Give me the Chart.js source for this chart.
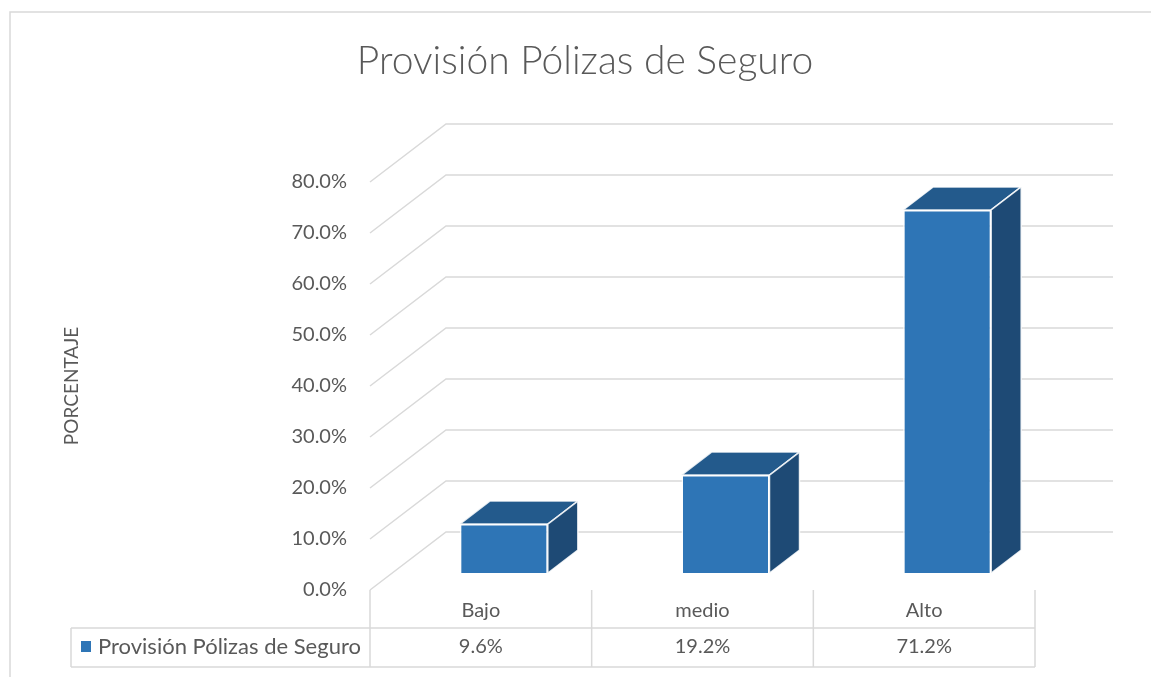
<html><head><meta charset="UTF-8">
<title>Provisión Pólizas de Seguro</title>
<style>
* { margin: 0; padding: 0; box-sizing: border-box; }
body { background: #ffffff; width: 1151px; height: 677px; overflow: hidden; }
.wrap { position: relative; width: 1151px; height: 677px; }
</style>
<script src="https://cdn.jsdelivr.net/npm/chart.js"></script>
</head>
<body>
<div class="wrap"><canvas id="chart"></canvas></div>
<script>
const chartTitle = 'Provisión Pólizas de Seguro';
const categories = ['Bajo', 'medio', 'Alto'];
const seriesName = 'Provisión Pólizas de Seguro';
const values = [9.6, 19.2, 71.2];
const tickValues = [0, 10, 20, 30, 40, 50, 60, 70, 80];

const TEXT = '#595959';
const GRID = '#D9D9D9';
const FRONT = '#2E75B6';
const TOP = '#235A8C';
const SIDE = '#1E4A75';

// wall depth (gridlines) and bar depth for the 3D look
const wallDX = 76, wallDY = -58;
const barShiftX = 23, barShiftY = -17;
const barDX = 30, barDY = -23;

const threeD = {
  id: 'threeD',
  beforeDraw(chart) {
    const ctx = chart.ctx;
    ctx.save();
    ctx.strokeStyle = GRID;
    ctx.lineWidth = 1.5;
    ctx.beginPath();
    ctx.moveTo(10, 677);
    ctx.lineTo(10, 12);
    ctx.lineTo(1151, 12);
    ctx.stroke();
    // title, centred on the whole chart like Excel does
    ctx.fillStyle = TEXT;
    ctx.font = '300 39px Lato';
    ctx.textAlign = 'center';
    ctx.textBaseline = 'middle';
    ctx.fillText(chartTitle, 585, 61);
    ctx.restore();
  },
  beforeDatasetsDraw(chart) {
    const ctx = chart.ctx;
    const area = chart.chartArea;
    const y = chart.scales.y;
    ctx.save();
    ctx.strokeStyle = GRID;
    ctx.lineWidth = 1.5;
    tickValues.forEach(v => {
      const py = y.getPixelForValue(v);
      ctx.beginPath();
      ctx.moveTo(area.left, py);
      ctx.lineTo(area.left + wallDX, py + wallDY);
      ctx.lineTo(area.right + wallDX + 2, py + wallDY);
      ctx.stroke();
    });
    ctx.restore();
    ctx.save();
    ctx.translate(barShiftX, barShiftY);
  },
  afterDatasetsDraw(chart) {
    const ctx = chart.ctx;
    ctx.restore();
    const meta = chart.getDatasetMeta(0);
    ctx.save();
    ctx.lineWidth = 1.5;
    ctx.strokeStyle = 'rgba(255,255,255,0.85)';
    ctx.lineJoin = 'round';
    meta.data.forEach(bar => {
      const l = bar.x - bar.width / 2 + barShiftX;
      const r = bar.x + bar.width / 2 + barShiftX;
      const t = bar.y + barShiftY;
      const b = bar.base + barShiftY;
      ctx.fillStyle = TOP;
      ctx.beginPath();
      ctx.moveTo(l, t);
      ctx.lineTo(l + barDX, t + barDY);
      ctx.lineTo(r + barDX, t + barDY);
      ctx.lineTo(r, t);
      ctx.closePath();
      ctx.fill();
      ctx.stroke();
      ctx.fillStyle = SIDE;
      ctx.beginPath();
      ctx.moveTo(r, t);
      ctx.lineTo(r + barDX, t + barDY);
      ctx.lineTo(r + barDX, b + barDY);
      ctx.lineTo(r, b);
      ctx.closePath();
      ctx.fill();
      ctx.stroke();
    });
    ctx.restore();
  },
  afterDraw(chart) {
    // data table under the axis
    const ctx = chart.ctx;
    const area = chart.chartArea;
    const x = chart.scales.x;
    const n = categories.length;
    const colW = area.width / n;
    const rowTop = 628, rowBot = 667, tableLeft = 71;
    ctx.save();
    ctx.strokeStyle = GRID;
    ctx.lineWidth = 1.5;
    ctx.beginPath();
    for (let i = 0; i <= n; i++) {
      const px = area.left + i * colW;
      ctx.moveTo(px, area.bottom);
      ctx.lineTo(px, rowBot);
    }
    ctx.moveTo(tableLeft, rowTop);
    ctx.lineTo(area.right, rowTop);
    ctx.moveTo(tableLeft, rowBot);
    ctx.lineTo(area.right, rowBot);
    ctx.moveTo(tableLeft, rowTop);
    ctx.lineTo(tableLeft, rowBot);
    ctx.stroke();

    ctx.fillStyle = FRONT;
    ctx.fillRect(81, 641, 10, 11);
    ctx.fillStyle = TEXT;
    ctx.font = '22px Lato';
    ctx.textBaseline = 'middle';
    ctx.textAlign = 'left';
    ctx.fillText(chart.data.datasets[0].label, 98, 647);
    ctx.font = '20px Lato';
    ctx.textAlign = 'center';
    values.forEach((v, i) => {
      ctx.fillText(v.toFixed(1) + '%', x.getPixelForValue(i), 647);
    });
    ctx.restore();
  }
};

new Chart(document.getElementById('chart'), {
  type: 'bar',
  data: {
    labels: categories,
    datasets: [{
      label: seriesName,
      data: values,
      backgroundColor: FRONT,
      borderColor: 'rgba(255,255,255,0.85)',
      borderWidth: 1.5,
      categoryPercentage: 1,
      barPercentage: 0.397
    }]
  },
  options: {
    responsive: true,
    maintainAspectRatio: false,
    animation: false,
    layout: { padding: { left: 55, right: 116, top: 182, bottom: 47 } },
    plugins: {
      legend: { display: false },
      tooltip: { enabled: false },
      title: { display: false }
    },
    scales: {
      x: {
        grid: { display: false, drawTicks: false },
        border: { display: false },
        ticks: { color: TEXT, font: { family: 'Lato', size: 20 }, padding: 9 },
        afterFit(s) { s.height = 40; }
      },
      y: {
        min: 0,
        max: 80,
        grid: { display: false, drawTicks: false },
        border: { display: false },
        ticks: {
          stepSize: 10,
          color: TEXT,
          font: { family: 'Lato', size: 20 },
          padding: 23,
          callback: v => v.toFixed(1) + '%'
        },
        title: {
          display: true,
          text: 'PORCENTAJE',
          color: TEXT,
          font: { family: 'Lato', size: 19 },
          padding: { top: 5, bottom: 0 }
        },
        afterFit(s) { s.width = 315; }
      }
    }
  },
  plugins: [threeD]
});
</script>
</body></html>
